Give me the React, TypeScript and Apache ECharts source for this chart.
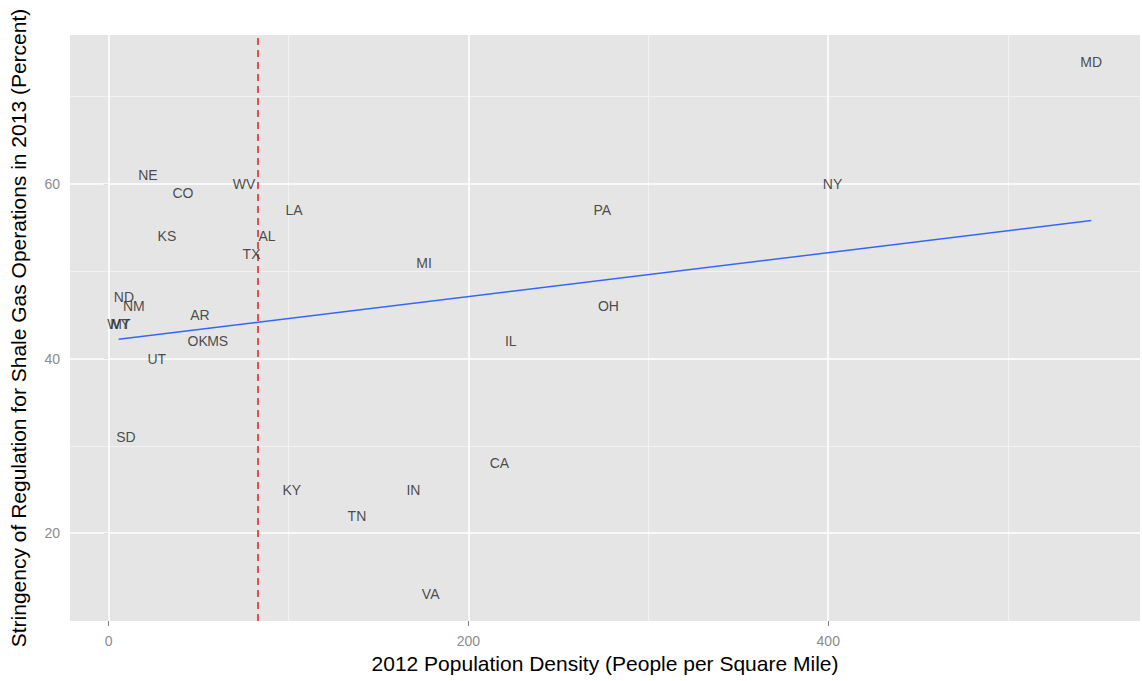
import React, { useEffect, useRef } from "react";
import * as echarts from "echarts";

// Data
const states = ["MD", "NY", "PA", "OH", "IL", "MI", "CA", "IN", "TN", "VA", "KY", "LA", "AL", "TX", "WV", "NE", "CO", "KS", "ND", "NM", "WY", "MT", "AR", "OK", "MS", "UT", "SD"];
const density = [546.2, 402.4, 274.4, 277.8, 223.5, 175.3, 217.2, 169.4, 138, 179, 101.8, 103.1, 88, 79.4, 75.3, 21.8, 41.3, 32.4, 8.5, 14, 5.5, 6.5, 50.7, 49.5, 60.6, 26.7, 9.6];
const stringency = [74, 60, 57, 46, 42, 51, 28, 25, 22, 13, 25, 57, 54, 52, 60, 61, 59, 54, 47, 46, 44, 44, 45, 42, 42, 40, 31];

// Fitted line endpoints
const fitX = [5.5, 546.2];
const fitY = [42.2, 55.8];

// Vertical reference line
const refLineX = 83;

// Axis ticks
const xTicks = [0, 200, 400];
const xMinor = [100, 300, 500];
const yTicks = [20, 40, 60];
const yMinor = [30, 50, 70];

const xRange = [-21.5, 573.3];
const yRange = [9.95, 77.05];

const FONT = "'Liberation Sans', Arial, Helvetica, sans-serif";

export default function App() {
  const ref = useRef<HTMLDivElement>(null);

  useEffect(() => {
    if (!ref.current) return;
    const chart = echarts.init(ref.current, undefined, { renderer: "svg" });

    const labelData = states.map((s, i) => ({ name: s, value: [density[i], stringency[i]] }));

    const gridLines = [
      ...xMinor.map((v) => ({ xAxis: v, lineStyle: { color: "#F2F2F2", width: 1, type: "solid" } })),
      ...yMinor.map((v) => ({ yAxis: v, lineStyle: { color: "#F2F2F2", width: 1, type: "solid" } })),
      ...xTicks.map((v) => ({ xAxis: v, lineStyle: { color: "#FFFFFF", width: 1.6, type: "solid" } })),
      ...yTicks.map((v) => ({ yAxis: v, lineStyle: { color: "#FFFFFF", width: 1.6, type: "solid" } })),
    ];

    chart.setOption({
      animation: false,
      backgroundColor: "#FFFFFF",
      textStyle: { fontFamily: FONT },
      grid: {
        left: 69,
        right: 2,
        top: 35,
        bottom: 60,
        show: true,
        backgroundColor: "#E5E5E5",
        borderWidth: 0,
      },
      xAxis: {
        type: "value",
        min: xRange[0],
        max: xRange[1],
        name: "2012 Population Density (People per Square Mile)",
        nameLocation: "middle",
        nameGap: 30,
        nameTextStyle: { fontSize: 21, color: "#000000", fontFamily: FONT },
        axisLine: { show: false },
        axisTick: { show: true, length: 5, lineStyle: { color: "#7F7F7F", width: 1 }, customValues: xTicks },
        axisLabel: { show: true, customValues: xTicks, color: "#8C8C8C", fontSize: 14, margin: 13, fontFamily: FONT },
        splitLine: { show: false },
      },
      yAxis: {
        type: "value",
        min: yRange[0],
        max: yRange[1],
        name: "Stringency of Regulation for Shale Gas Operations in 2013 (Percent)",
        nameLocation: "middle",
        nameRotate: 90,
        nameGap: 41,
        nameTextStyle: { fontSize: 21, color: "#000000", fontFamily: FONT },
        axisLine: { show: false },
        axisTick: { show: true, length: 5, lineStyle: { color: "#7F7F7F", width: 1 }, customValues: yTicks },
        axisLabel: { show: true, customValues: yTicks, color: "#8C8C8C", fontSize: 14, margin: 10, fontFamily: FONT },
        splitLine: { show: false },
      },
      series: [
        {
          type: "line",
          z: 1,
          data: [],
          silent: true,
          markLine: {
            z: 1,
            silent: true,
            symbol: "none",
            label: { show: false },
            animation: false,
            data: gridLines,
          },
        },
        {
          type: "line",
          z: 3,
          data: [[fitX[0], fitY[0]], [fitX[1], fitY[1]]],
          showSymbol: false,
          symbol: "none",
          lineStyle: { color: "#3366FF", width: 1.5 },
          silent: true,
        },
        {
          type: "line",
          z: 4,
          data: [],
          silent: true,
          markLine: {
            z: 4,
            silent: true,
            symbol: "none",
            label: { show: false },
            animation: false,
            data: [{ xAxis: refLineX }],
            lineStyle: { color: "#E8262A", width: 1.6, type: [7, 5] },
          },
        },
        {
          type: "scatter",
          z: 5,
          data: labelData,
          symbol: "circle",
          symbolSize: 1,
          itemStyle: { color: "rgba(0,0,0,0)" },
          silent: true,
          label: {
            show: true,
            position: "inside",
            formatter: (p: any) => p.name,
            color: "#222222",
            fontSize: 14,
            fontFamily: FONT,
          },
          labelLayout: { hideOverlap: false },
        },
      ],
    });

    return () => chart.dispose();
  }, []);

  return (
    <div
      ref={ref}
      style={{ position: "absolute", left: 0, top: 0, width: 1142, height: 681 }}
    />
  );
}
